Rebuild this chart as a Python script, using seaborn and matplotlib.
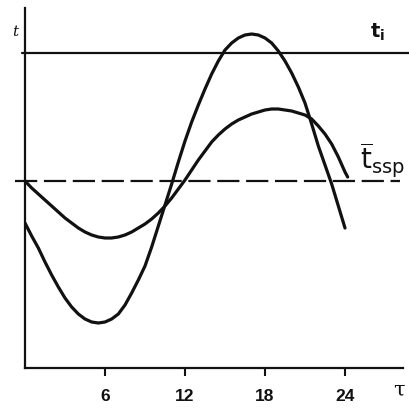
import matplotlib
matplotlib.use("Agg")
import matplotlib.pyplot as plt
import seaborn as sns
import pandas as pd
import numpy as np

# ---- data (t relative to the mean level) ----
tau_steep = np.arange(0, 24.5, 0.5)
t_steep = [-4.2, -5.5, -6.7, -8.1, -9.4, -10.6, -11.7, -12.6, -13.3, -13.8,
           -14.1, -14.2, -14.1, -13.8, -13.3, -12.4, -11.2, -9.9, -8.5, -6.6,
           -4.5, -2.4, -0.3, 1.9, 4.0, 5.9, 7.6, 9.2, 10.7, 12.0,
           13.1, 13.8, 14.3, 14.6, 14.7, 14.6, 14.3, 13.8, 13.0, 12.0,
           10.8, 9.4, 7.8, 5.7, 3.5, 1.6, -0.3, -2.5, -4.7]
tau_flat = list(np.arange(0, 24.5, 0.5)) + [24.2]
t_flat = [0.0, -0.7, -1.3, -1.9, -2.5, -3.1, -3.7, -4.2, -4.7, -5.1,
          -5.4, -5.6, -5.7, -5.7, -5.6, -5.4, -5.1, -4.7, -4.3, -3.8,
          -3.2, -2.5, -1.7, -0.8, 0.1, 1.1, 2.1, 3.0, 3.9, 4.6,
          5.2, 5.7, 6.1, 6.4, 6.7, 6.9, 7.1, 7.2, 7.2, 7.1,
          7.0, 6.8, 6.6, 6.2, 5.5, 4.7, 3.7, 2.4, 0.9, 0.4]
t_i_level = 12.8
t_ssp_level = 0.0
x_ticks = [6, 12, 18, 24]
x_ticklabels = ["6", "12", "18", "24"]

df_steep = pd.DataFrame({"tau": tau_steep, "t": t_steep})
df_flat = pd.DataFrame({"tau": tau_flat, "t": t_flat})

sns.set_theme(style="white")
plt.rcParams["font.family"] = ["Liberation Sans", "DejaVu Sans"]

W = H = 409
fig = plt.figure(figsize=(W / 100, H / 100), dpi=100)
L, R, T, B = 25, 403, 8, 368
ax = fig.add_axes([L / W, 1 - B / H, (R - L) / W, (B - T) / H])

ink = "#111111"
sns.lineplot(data=df_steep, x="tau", y="t", ax=ax, color=ink, lw=2.3, sort=False)
sns.lineplot(data=df_flat, x="tau", y="t", ax=ax, color=ink, lw=2.3, sort=False)
for ln in ax.lines:
    ln.set_solid_joinstyle("round")
    ln.set_solid_capstyle("round")

ax.set_xlim(0, 28.35)
ax.set_ylim(-18.7, 17.3)

ax.axhline(t_i_level, xmin=-3 / (R - L), xmax=(409 - L) / (R - L),
           color=ink, lw=1.6, clip_on=False)
ax.axhline(t_ssp_level, xmin=-10 / (R - L), xmax=(400 - L) / (R - L),
           color=ink, lw=1.6, dashes=(10, 3), clip_on=False)

for s in ["top", "right"]:
    ax.spines[s].set_visible(False)
for s in ["left", "bottom"]:
    ax.spines[s].set_color(ink)
    ax.spines[s].set_linewidth(1.6)

ax.set_xticks(x_ticks)
ax.set_xticklabels(x_ticklabels)
ax.set_yticks([])
ax.tick_params(axis="x", direction="out", length=6, width=1.5, pad=9,
               labelsize=12.5, colors=ink, bottom=True)
for lab in ax.get_xticklabels():
    lab.set_fontweight("bold")
ax.set_xlabel("")
ax.set_ylabel("")

def fx(px):
    return px / W

def fy(py):
    return 1 - py / H

fig.text(fx(399), fy(390), "τ", fontsize=15, ha="center", va="center",
         color=ink, family=["DejaVu Serif"])
fig.text(fx(15), fy(32), "t", fontsize=11, ha="center", va="center",
         color=ink, family=["DejaVu Serif"], style="italic")
fig.text(fx(378), fy(32), r"$\mathbf{t_i}$", fontsize=14, ha="center",
         va="center", color=ink)
fig.text(fx(382), fy(160), r"$\overline{\mathrm{t}}_{\mathrm{ssp}}$",
         fontsize=20, ha="center", va="center", color=ink)

fig.savefig("out.png", dpi=100)
